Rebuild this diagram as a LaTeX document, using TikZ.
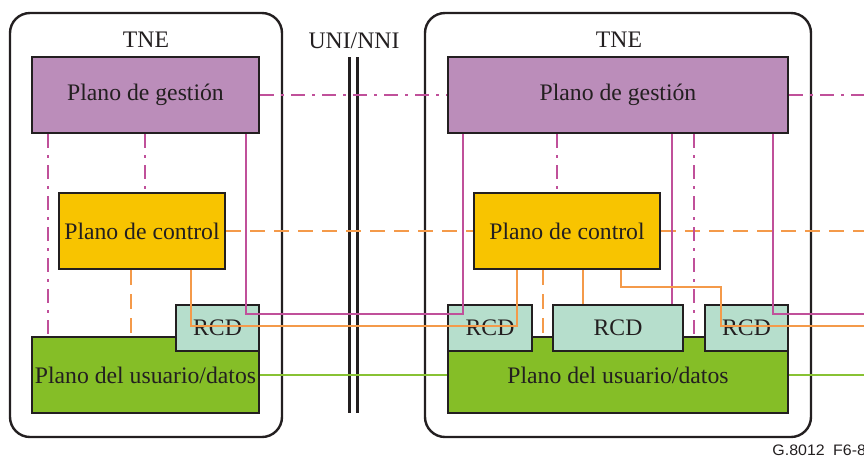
\documentclass[tikz,border=0pt]{standalone}
\usepackage{fontspec}
\setmainfont{Liberation Serif}
\newfontfamily\labelfont{Liberation Sans}
\definecolor{boxline}{RGB}{35,31,32}
\definecolor{txt}{RGB}{35,31,32}
\definecolor{mgmtfill}{RGB}{187,141,186}
\definecolor{ctrlfill}{RGB}{248,196,0}
\definecolor{datafill}{RGB}{133,190,39}
\definecolor{rcdfill}{RGB}{182,222,204}
\definecolor{mag}{RGB}{192,80,154}
\definecolor{org}{RGB}{244,154,74}
\definecolor{grn}{RGB}{136,194,52}
\begin{document}
\begin{tikzpicture}[x=0.5pt,y=-0.5pt,
  tne/.style={draw=boxline, line width=1.2pt, rounded corners=10pt, inner sep=0pt},
  plane/.style={draw=boxline, line width=1.3pt, inner sep=0pt, text=txt,
    font=\fontsize{11.85}{14}\selectfont},
  lbl/.style={text=txt, inner sep=0pt, font=\fontsize{11.85}{14}\selectfont},
  mgmtdd/.style={draw=mag, line width=1.15pt, dash pattern=on 7pt off 3.5pt on 1.5pt off 3.5pt},
  mgmtline/.style={draw=mag, line width=1.1pt},
  ctrldash/.style={draw=org, line width=1.15pt, dash pattern=on 7.5pt off 4.5pt},
  ctrlline/.style={draw=org, line width=1.1pt},
  dataline/.style={draw=grn, line width=1.1pt},
  unibar/.style={draw=boxline, line width=1.3pt}
]
\useasboundingbox (0,0) rectangle (864,457);

% outer TNE boxes
\node[tne, minimum width=136pt, minimum height=212pt] (oL) at (146,225) {};
\node[tne, minimum width=193pt, minimum height=212pt] (oR) at (618,225) {};
\node[lbl, anchor=base] (tL) at (146,47) {TNE};
\node[lbl, anchor=base] (tR) at (619,47) {TNE};

% UNI/NNI
\node[lbl, anchor=base] (uni) at (354,48) {UNI/NNI};
\coordinate (b1t) at (349.5,57);
\coordinate (b1b) at (349.5,413);
\coordinate (b2t) at (357.5,57);
\coordinate (b2b) at (357.5,413);
\draw[unibar] (b1t) -- (b1b);
\draw[unibar] (b2t) -- (b2b);

% left TNE planes
\node[plane, fill=mgmtfill, minimum width=113.5pt, minimum height=38pt] (mL) at (145.5,95) {Plano de gestión};
\node[plane, fill=ctrlfill, minimum width=83pt, minimum height=38pt] (cL) at (142,231) {Plano de control};
\node[plane, fill=datafill, minimum width=113.5pt, minimum height=38pt] (uL) at (145.5,375) {Plano del usuario/datos};
\node[plane, fill=rcdfill, minimum width=41.5pt, minimum height=23pt] (rL) at (217.5,328) {RCD};

% right TNE planes
\node[plane, fill=mgmtfill, minimum width=170pt, minimum height=38pt] (mR) at (618,95) {Plano de gestión};
\node[plane, fill=ctrlfill, minimum width=93pt, minimum height=38pt] (cR) at (567,231) {Plano de control};
\node[plane, fill=datafill, minimum width=170pt, minimum height=38pt] (uR) at (618,375) {Plano del usuario/datos};
\node[plane, fill=rcdfill, minimum width=42pt, minimum height=23pt] (r1) at (490,328) {RCD};
\node[plane, fill=rcdfill, minimum width=65pt, minimum height=23pt] (r2) at (618,328) {RCD};
\node[plane, fill=rcdfill, minimum width=41.5pt, minimum height=23pt] (r3) at (746.5,328) {RCD};

% free ends at the right border
\coordinate (eM) at (864,95);
\coordinate (eC) at (864,231);
\coordinate (eD) at (864,375);
\coordinate (eM2) at (864,314);
\coordinate (eC2) at (864,326);

% horizontal inter-TNE links
\draw[mgmtdd] (mL.east) -- (mR.west);
\draw[mgmtdd] (mR.east) -- (eM);
\draw[ctrldash] (cL.east) -- (cR.west);
\draw[ctrldash] (cR.east) -- (eC);
\draw[dataline] (uL.east) -- (uR.west);
\draw[dataline] (uR.east) -- (eD);

% left internal links
\draw[mgmtdd] (48,0 |- mL.south) -- (48,0 |- uL.north);
\draw[mgmtdd] (145,0 |- mL.south) -- (145,0 |- cL.north);
\draw[ctrldash] (131,0 |- cL.south) -- (131,0 |- uL.north);
\coordinate (mA) at (246,314);
\coordinate (mB) at (463,314);
\draw[mgmtline] (mL.south -| mA) -- (mA) -- (mB) -- (mB |- mR.south);
\coordinate (oA) at (191,326);
\coordinate (oB) at (517,326);
\draw[ctrlline] (cL.south -| oA) -- (oA) -- (oB) -- (oB |- cR.south);

% right internal links
\draw[mgmtdd] (557,0 |- mR.south) -- (557,0 |- cR.north);
\draw[mgmtline] (672,0 |- mR.south) -- (672,0 |- r2.north);
\draw[mgmtdd] (694,0 |- mR.south) -- (694,0 |- uR.north);
\coordinate (mC) at (773,314);
\draw[mgmtline] (mR.south -| mC) -- (mC) -- (eM2);
\draw[ctrldash] (543,0 |- cR.south) -- (543,0 |- uR.north);
\draw[ctrlline] (583,0 |- cR.south) -- (583,0 |- r2.north);
\coordinate (oC) at (621,287);
\coordinate (oD) at (721,287);
\coordinate (oE) at (721,326);
\draw[ctrlline] (cR.south -| oC) -- (oC) -- (oD) -- (oE) -- (eC2);

% figure id
\node[anchor=base west, inner sep=0pt, text=txt, xscale=1.05,
  font=\labelfont\fontsize{7.6}{9}\selectfont] (fid) at (772,455) {G.8012\hspace{4pt}F6-8};
\end{tikzpicture}
\end{document}
